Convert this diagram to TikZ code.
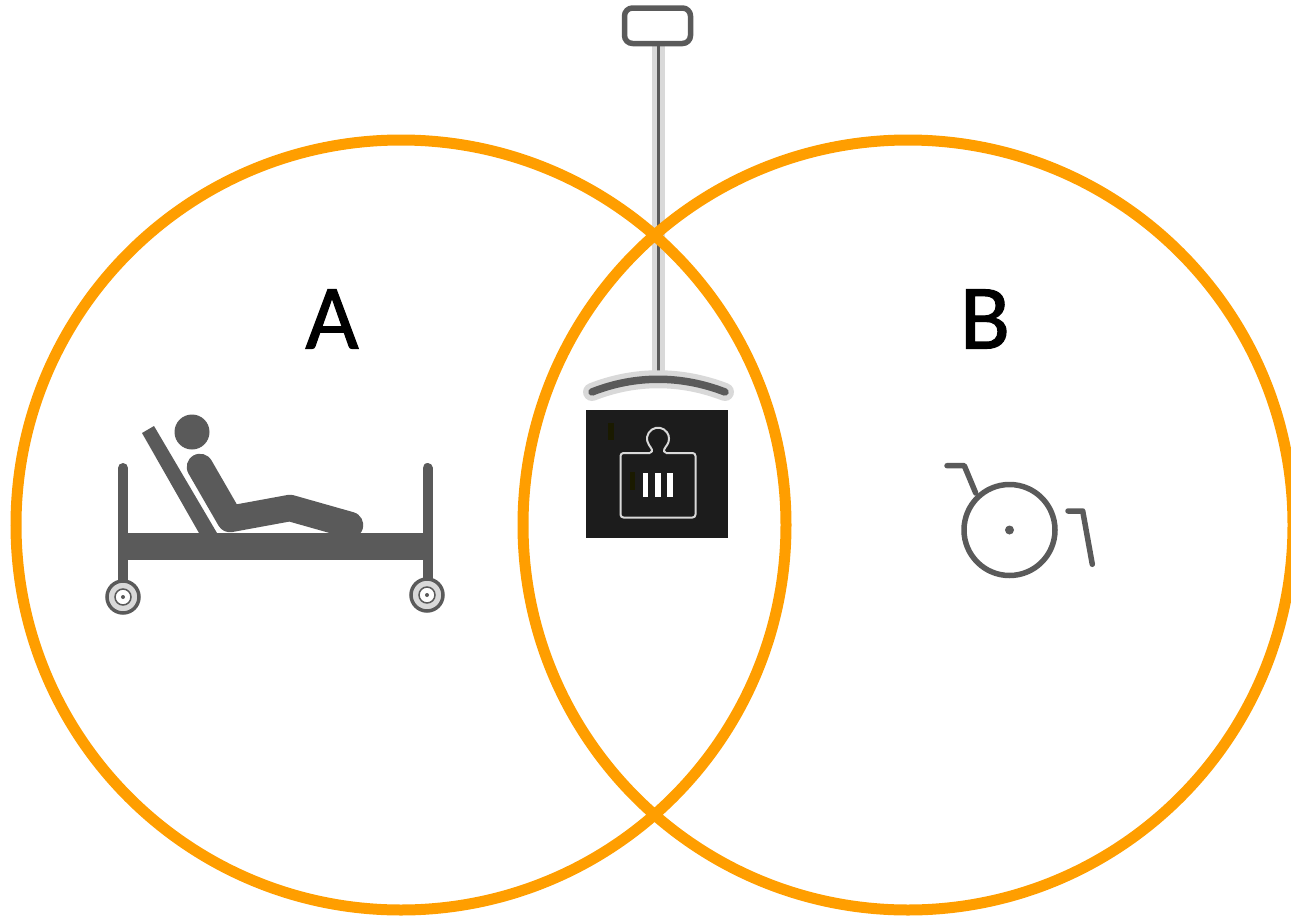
\documentclass[tikz,border=0pt]{standalone}
\usepackage{fontspec}
\setmainfont{Carlito}
\newfontfamily\letterfont[FakeBold=1.2]{Carlito}
\usepackage{xcolor}
\definecolor{ringorange}{HTML}{FF9E00}
\definecolor{icongray}{HTML}{5A5A5A}
\definecolor{softgray}{HTML}{D9D9D9}
\definecolor{scalebg}{HTML}{1C1C1C}
\definecolor{scalespot}{HTML}{1A1A00}
\tikzset{
	ring/.style={draw=ringorange, line width=11pt},
	iconline/.style={draw=icongray, line width=5.5pt, line cap=round, line join=round},
	bigletter/.style={font=\letterfont\fontsize{92}{92}\selectfont, inner sep=0pt},
}
\begin{document}
\begin{tikzpicture}[x=1pt, y=-1pt]
	\def\Rring{385};
	\def\yring{525};
	\def\wheelr{16};

	\useasboundingbox (0,0) rectangle (1291,918);

	% ceiling lift
	\begin{scope}
		\draw[softgray, line width=13pt] (658,46) -- (658,380);
		\draw[icongray, line width=3pt] (658,46) -- (658,380);
		\draw[softgray, line width=18pt, line cap=round] (592,392) .. controls (635,375) and (681,375) .. (725,392);
		\draw[icongray, line width=7.5pt, line cap=round] (592,392) .. controls (635,375) and (681,375) .. (725,392);
		\draw[iconline, rounded corners=8pt, fill=white] (624.5,8) rectangle (690.5,43.5);
	\end{scope}

	% scale
	\begin{scope}
		\fill[scalebg] (586,410) rectangle (728,538);
		\fill[scalespot] (608,423) rectangle (614,440);
		\fill[scalespot] (630,472) rectangle (635,490);
		\draw[softgray, line width=2pt, rounded corners=3pt]
			(650,453) -- (620.5,453) -- (620.5,517.5) -- (695.5,517.5) -- (695.5,453) -- (666,453);
		\draw[softgray, line width=2pt] (650,453) .. controls (654,451) and (651,448) .. (649,445)
			arc[start angle=145, end angle=395, radius=11] .. controls (665,448) and (662,451) .. (666,453);
		\foreach \xbar in {642.7, 655, 667.3} {
			\fill[white] (\xbar,473) rectangle ++(5.6,24);
		}
	\end{scope}

	% bed
	\begin{scope}
		\fill[icongray] (142,433) -- (154,426) -- (217,533) -- (199,533) -- cycle;
		\fill[icongray] (192,432) circle [radius=17.5];
		\draw[icongray, line width=26.5pt, line cap=round, line join=round]
			(200,467) -- (230,519) -- (290,508) -- (350,525);
		\draw[icongray, line width=10pt, line cap=round] (123,468) -- (123,585);
		\draw[icongray, line width=10pt, line cap=round] (427.5,468) -- (427.5,585);
		\fill[icongray] (118,533) rectangle (432,560);
		\foreach \xwheel/\ywheel in {123/597, 427/595} {
			\draw[icongray, fill=softgray, line width=3.5pt] (\xwheel,\ywheel) circle [radius=\wheelr];
			\draw[icongray, fill=white, line width=1.5pt] (\xwheel,\ywheel) circle [radius=8];
			\fill[icongray] (\xwheel,\ywheel) circle [radius=2];
		}
	\end{scope}

	% wheelchair
	\begin{scope}
		\draw[iconline] (1009.5,530) circle [radius=45.5];
		\fill[icongray] (1009.5,530) circle [radius=4.5];
		\draw[iconline] (947,465.7) -- (964.3,465.7) -- (975.7,493);
		\draw[iconline] (1068,511) -- (1082.7,511) -- (1092.3,564.3);
	\end{scope}

	% rings
	\draw[ring] (401,\yring) circle [radius=\Rring];
	\draw[ring] (908,\yring) circle [radius=\Rring];

	\node[bigletter] (labelA) at (332,319) {A};
	\node[bigletter] (labelB) at (985,319) {B};
\end{tikzpicture}
\end{document}
